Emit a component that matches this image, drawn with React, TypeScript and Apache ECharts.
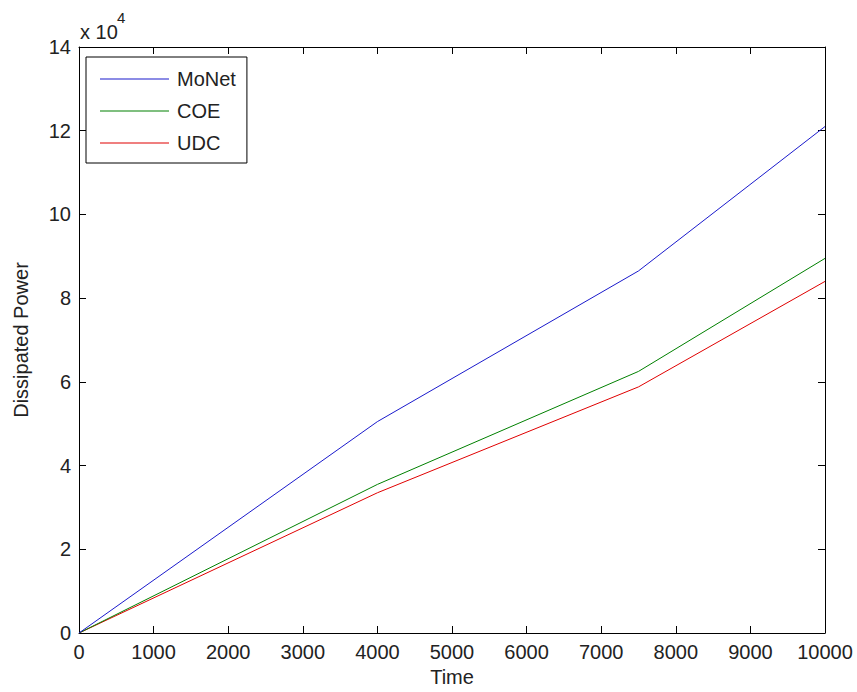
import React, { useEffect, useRef } from "react";
import * as echarts from "echarts";

const timeValues = [0, 4000, 7500, 10000];
const moNet = [0, 50500, 86500, 121000];
const coe = [0, 35500, 62500, 89500];
const udc = [0, 33500, 58800, 84000];
const seriesNames = ["MoNet", "COE", "UDC"];
const seriesColors = ["#1a1acc", "#008000", "#e00000"];

const FONT = "'Liberation Sans', Arial, sans-serif";

export default function App() {
  const ref = useRef<HTMLDivElement>(null);
  useEffect(() => {
    if (!ref.current) return;
    const chart = echarts.init(ref.current, null, { renderer: "svg" });
    const mk = (vals: number[]) => timeValues.map((t, i) => [t, vals[i]]);
    const all = [moNet, coe, udc];
    const axisCommon = {
      axisLine: { show: true, onZero: false, lineStyle: { color: "#000", width: 1 } },
      axisTick: { show: true, inside: true, length: 7, lineStyle: { color: "#000" } },
      splitLine: { show: false },
    };
    chart.setOption({
      animation: false,
      backgroundColor: "#fff",
      textStyle: { fontFamily: FONT },
      grid: { left: 79, right: 32, top: 47, bottom: 59, containLabel: false },
      legend: {
        data: seriesNames,
        orient: "vertical",
        left: 86,
        top: 57,
        padding: [12, 11, 10, 14],
        itemGap: 12,
        itemWidth: 69,
        itemHeight: 1,
        icon: "rect",
        borderColor: "#000",
        borderWidth: 1,
        borderRadius: 0,
        backgroundColor: "#fff",
        textStyle: { fontFamily: FONT, fontSize: 20, color: "#222", padding: [0, 0, 0, 3], lineHeight: 20 },
      },
      xAxis: [
        {
          type: "value",
          min: 0,
          max: 10000,
          interval: 1000,
          name: "Time",
          nameLocation: "middle",
          nameGap: 25,
          nameTextStyle: { fontFamily: FONT, fontSize: 20, color: "#222" },
          axisLabel: {
            color: "#222",
            fontSize: 20,
            fontFamily: FONT,
            margin: 9,
            formatter: (v: number) => String(v),
          },
          ...axisCommon,
        },
        {
          type: "value",
          position: "top",
          min: 0,
          max: 10000,
          interval: 1000,
          axisLabel: { show: false },
          ...axisCommon,
        },
      ],
      yAxis: [
        {
          type: "value",
          min: 0,
          max: 140000,
          interval: 20000,
          name: "Dissipated Power",
          nameLocation: "middle",
          nameGap: 48,
          nameTextStyle: { fontFamily: FONT, fontSize: 20, color: "#222" },
          axisLabel: {
            color: "#222",
            fontSize: 20,
            fontFamily: FONT,
            margin: 8,
            formatter: (v: number) => String(v / 10000),
          },
          ...axisCommon,
        },
        {
          type: "value",
          position: "right",
          min: 0,
          max: 140000,
          interval: 20000,
          axisLabel: { show: false },
          ...axisCommon,
        },
      ],
      graphic: [
        {
          type: "text",
          left: 80,
          top: 22,
          style: { text: "x 10", fontFamily: FONT, fontSize: 20, fill: "#222" },
        },
        {
          type: "text",
          left: 117,
          top: 10,
          style: { text: "4", fontFamily: FONT, fontSize: 15, fill: "#222" },
        },
      ],
      series: all.map((vals, i) => ({
        name: seriesNames[i],
        type: "line",
        data: mk(vals),
        symbol: "none",
        showSymbol: false,
        lineStyle: { color: seriesColors[i], width: 1 },
        itemStyle: { color: seriesColors[i] },
        z: 3 - i,
      })),
    });
    return () => chart.dispose();
  }, []);
  return (
    <div
      ref={ref}
      style={{ position: "fixed", left: 0, top: 0, width: 857, height: 692 }}
    />
  );
}
